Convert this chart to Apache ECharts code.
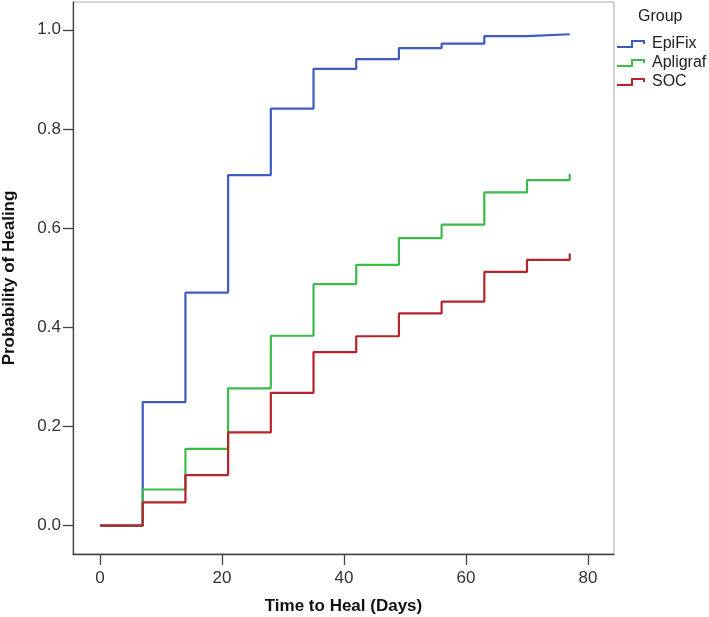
<!DOCTYPE html>
<html>
<head>
<meta charset="utf-8">
<script src="https://cdn.jsdelivr.net/npm/echarts@6/dist/echarts.min.js"></script>
<style>
html,body{margin:0;padding:0;background:#fff;}
#chart{width:709px;height:617px;}
</style>
</head>
<body>
<div id="chart"></div>
<script>
// ---- data ----
const days = [0, 7, 14, 21, 28, 35, 42, 49, 56, 63, 70, 77];
const epifix   = [0, 0.249, 0.470, 0.707, 0.841, 0.921, 0.941, 0.963, 0.972, 0.987, 0.991, 0.991];
const apligraf = [0, 0.073, 0.155, 0.277, 0.383, 0.487, 0.526, 0.580, 0.607, 0.672, 0.697, 0.709];
const soc      = [0, 0.047, 0.102, 0.188, 0.268, 0.350, 0.382, 0.428, 0.452, 0.512, 0.536, 0.549];
const groupNames = ['EpiFix', 'Apligraf', 'SOC'];
const xTicks = [0, 20, 40, 60, 80];
const yTicks = [0, 0.2, 0.4, 0.6, 0.8, 1.0];
const yTickLabels = ['0.0', '0.2', '0.4', '0.6', '0.8', '1.0'];

const colors = ['#3d5cbf', '#3cba4a', '#b5232c'];
const seriesValues = [epifix, apligraf, soc];
const pair = vals => days.map((d, i) => [d, vals[i]]);

const FONT = '"Liberation Sans", Arial, sans-serif';
const stepIcon = 'path://M0,6 L14,6 L14,0 L28,0 L28,4 L26,4 L26,2 L16,2 L16,8 L0,8 Z';

const chart = echarts.init(document.getElementById('chart'), null, {renderer: 'canvas'});
chart.setOption({
  animation: false,
  backgroundColor: '#fff',
  grid: {left: 73, right: 95, top: 2, bottom: 63, show: true, borderColor: '#aaa', borderWidth: 1,
         containLabel: false, outerBoundsMode: 'none'},
  graphic: [{
    type: 'text', left: 638, top: 9,
    style: {text: 'Group', font: '16px ' + FONT, fill: '#222'}
  }],
  legend: {
    orient: 'vertical', left: 617, top: 35, padding: 0,
    itemWidth: 28, itemHeight: 8, itemGap: 1,
    icon: stepIcon,
    itemStyle: {borderWidth: 0},
    textStyle: {fontFamily: FONT, fontSize: 16, color: '#222', lineHeight: 18, padding: [0,0,0,2]},
    data: groupNames
  },
  xAxis: {
    type: 'value', min: -4.43, max: 84.26,
    name: 'Time to Heal (Days)', nameLocation: 'middle', nameGap: 44,
    nameTextStyle: {fontFamily: FONT, fontSize: 17, fontWeight: 'bold', color: '#111'},
    axisLine: {onZero: false, lineStyle: {color: '#444', width: 1.3}},
    axisTick: {show: true, length: 11, customValues: xTicks, lineStyle: {color: '#444', width: 1.3}},
    axisLabel: {customValues: xTicks, margin: 16, fontFamily: FONT, fontSize: 17, color: '#333'},
    splitLine: {show: false}
  },
  yAxis: {
    type: 'value', min: -0.0571, max: 1.056,
    name: 'Probability of Healing', nameLocation: 'middle', nameGap: 55,
    nameTextStyle: {fontFamily: FONT, fontSize: 17, fontWeight: 'bold', color: '#111'},
    axisLine: {show: true, onZero: false, lineStyle: {color: '#444', width: 1.3}},
    axisTick: {show: true, length: 10, customValues: yTicks, lineStyle: {color: '#444', width: 1.3}},
    axisLabel: {
      customValues: yTicks, margin: 12, fontFamily: FONT, fontSize: 17, color: '#333',
      formatter: v => { const i = yTicks.findIndex(t => Math.abs(t - v) < 1e-9); return i >= 0 ? yTickLabels[i] : ''; }
    },
    splitLine: {show: false}
  },
  series: groupNames.map((name, i) => ({
    name, type: 'line', step: 'end', symbol: 'none',
    data: pair(seriesValues[i]),
    color: colors[i],
    lineStyle: {color: colors[i], width: 2.2},
    itemStyle: {color: colors[i]}
  }))
});
</script>
</body>
</html>
